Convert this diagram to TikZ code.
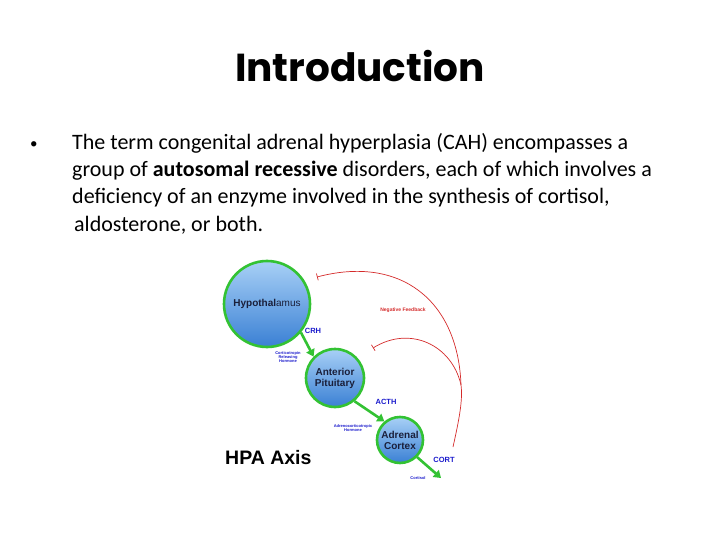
\documentclass[tikz,border=0pt]{standalone}
\usepackage{fontspec}
\setmainfont{Carlito}
\newfontfamily\titlefont{Poppins}
\newfontfamily\arialfont{Liberation Sans}
\usetikzlibrary{arrows.meta}
\definecolor{ringgreen}{HTML}{33C233}
\definecolor{balltop}{HTML}{A8D0F6}
\definecolor{ballbot}{HTML}{3A80D4}
\definecolor{navy}{HTML}{1A1F3A}
\definecolor{lblue}{HTML}{1A1ACC}
\definecolor{fbred}{HTML}{D42A2A}
\tikzset{
  ball/.style={circle, draw=ringgreen, line width=2.6pt, top color=balltop, bottom color=ballbot, inner sep=0pt, minimum size=#1},
  balltxt/.style={font=\arialfont\bfseries\fontsize{10}{11}\selectfont, text=navy, align=center},
  flow/.style={draw=ringgreen, line width=2.6pt, -{Triangle[length=7pt,width=9pt]}},
  hormone/.style={font=\arialfont\bfseries\fontsize{7.5}{8}\selectfont, text=lblue},
  tiny/.style={font=\arialfont\bfseries\fontsize{4}{4.4}\selectfont, text=lblue, align=center},
  feedback/.style={draw=fbred, line width=0.7pt, -{Bar[width=7pt]}},
  bodyline/.style={anchor=base west, font=\fontsize{22}{26}\selectfont, inner sep=0pt}
}
\begin{document}
\begin{tikzpicture}[x=1pt,y=-1pt]
\useasboundingbox (0,0) rectangle (720,540);
% title
\node[font=\titlefont\bfseries\fontsize{39}{41}\selectfont, anchor=base, inner sep=0pt] (title) at (360,82) {Introduction};
% bullet text
\node[anchor=base west, inner sep=0pt, font=\fontsize{15}{16}\selectfont] (bul) at (30,149) {•};
\node[bodyline] (l1) at (72,150) {The term congenital adrenal hyperplasia (CAH) encompasses a};
\node[bodyline] (l2) at (72,177) {group of \textbf{autosomal recessive} disorders, each of which involves a};
\node[bodyline] (l3) at (72,204) {deficiency of an enzyme involved in the synthesis of cortisol,};
\node[bodyline] (l4) at (74,231) {aldosterone, or both.};
% diagram
\node[ball=86pt, balltxt] (hyp) at (267,304) {Hypothal\textmd{amus}};
\node[ball=58pt, balltxt] (pit) at (335,378) {Anterior\\Pituitary};
\node[ball=46pt, balltxt] (adr) at (400,440) {Adrenal\\Cortex};
\coordinate (out) at (441,478);
\draw[flow] (hyp.-40) -- (pit.135);
\draw[flow] (pit.-50) -- (adr.130);
\draw[flow] (adr.-45) -- (out);
\node[hormone] (crh) at (313,331) {CRH};
\node[hormone] (acth) at (386,402) {ACTH};
\node[hormone] (cort) at (444,460) {CORT};
\node[tiny] (crht) at (288,357) {Corticotropin\\Releasing\\Hormone};
\node[tiny] (actht) at (353,428) {Adrenocorticotropic\\Hormone};
\node[tiny] (cortt) at (418,478) {Cortisol};
\node[font=\arialfont\bfseries\fontsize{5}{5}\selectfont, text=fbred] (nf) at (403,310) {Negative Feedback};
\node[font=\arialfont\bfseries\fontsize{19.5}{20}\selectfont, anchor=base west, inner sep=0pt] (hpa) at (225,464) {HPA Axis};
% feedback
\coordinate (fs) at (453,447);
\coordinate (fm) at (461,385);
\draw[feedback] (fs) .. controls (459,420) and (463,400) .. (fm) .. controls (458,300) and (400,255) .. (317,277);
\draw[feedback] (fm) .. controls (452,345) and (410,325) .. (373,348);
\end{tikzpicture}
\end{document}
